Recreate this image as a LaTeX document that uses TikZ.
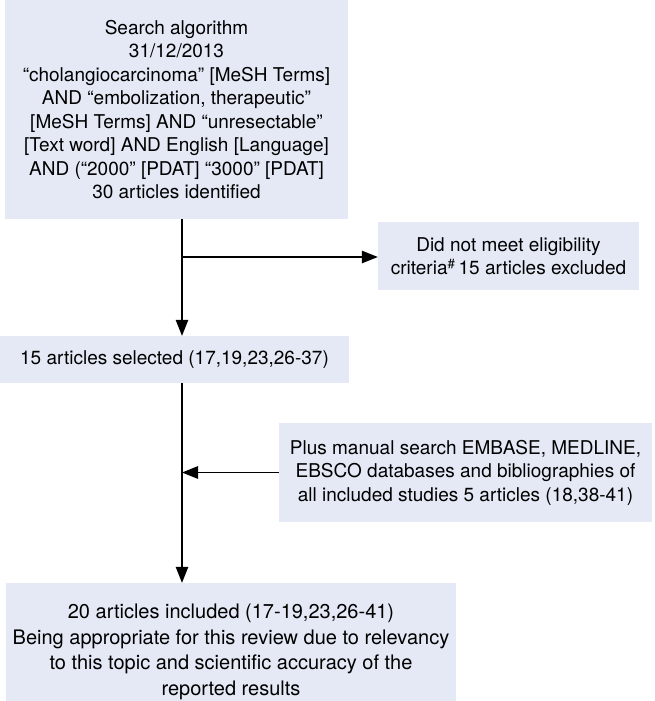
\documentclass[tikz,border=0pt]{standalone}
\usepackage{fontspec}
\setmainfont{TeX Gyre Heros}
\usepackage{tikz}
\usetikzlibrary{arrows.meta, positioning}
\definecolor{boxblue}{RGB}{228,233,245}

\begin{document}
\begin{tikzpicture}[
    x = 1pt, y = -1pt,
    punkt/.style = {rectangle, fill=boxblue, align=center, inner sep=0pt},
    pil/.style = {black, line width=1.3pt, -{Triangle[length=16pt, width=12.5pt]}},
    font=\fontsize{19}{23.5}\selectfont
    ]

  \useasboundingbox (0,0) rectangle (655,701) ;

  \node[punkt, minimum width=343pt, minimum height=219pt] (search) at (176.5,109.5)
    {Search algorithm\\ 31/12/2013\\ ``cholangiocarcinoma'' [MeSH Terms]\\
     AND ``embolization, therapeutic''\\ {[}MeSH Terms] AND ``unresectable''\\
     {[}Text word] AND English [Language]\\ AND (``2000'' [PDAT] ``3000'' [PDAT]\\
     30 articles identified} ;
  \node[punkt, minimum width=261pt, minimum height=68pt] (excluded) at (508.5,256)
    {Did not meet eligibility\\ criteria\textsuperscript{\#}\,15 articles excluded} ;
  \node[punkt, minimum width=349pt, minimum height=47pt] (selected) at (174.5,359.5)
    {15 articles selected (17,19,23,26-37)} ;
  \node[punkt, minimum width=373pt, minimum height=99pt] (manual) at (465.5,472.5)
    {Plus manual search EMBASE, MEDLINE,\\ EBSCO databases and bibliographies of\\
     all included studies 5 articles (18,38-41)} ;
  \node[punkt, minimum width=450pt, minimum height=138pt,
        font=\fontsize{20}{25.5}\selectfont] (included) at (231,652)
    {20 articles included (17-19,23,26-41)\\ Being appropriate for this review due to relevancy\\
     to this topic and scientific accuracy of the\\ reported results} ;

  \coordinate (split) at (182,257) ;

  \draw[pil]
  (search.south -| split) -- (selected.north -| split) ;
  \draw[pil]
  (split) -- (split -| excluded.west) ;
  \draw[pil]
  (selected.south -| split) -- (included.north -| split) ;
  \draw[pil]
  (manual.west) -- (manual.west -| split) ;
\end{tikzpicture}
\end{document}
